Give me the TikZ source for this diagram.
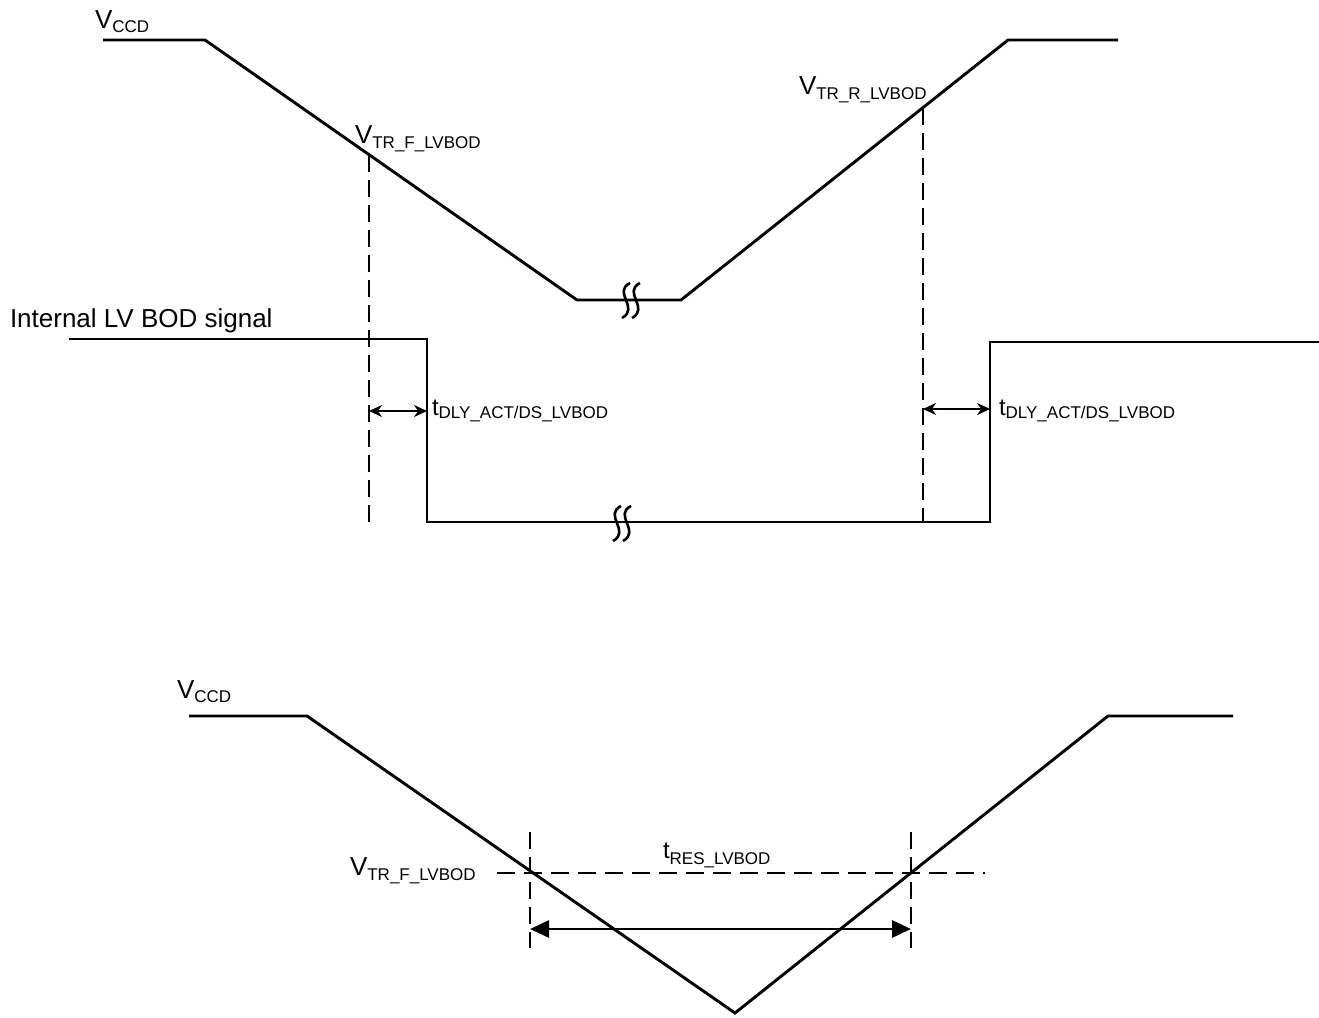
\documentclass[tikz,border=0pt]{standalone}
\usepackage{fontspec}
\setmainfont{Liberation Sans}
\usetikzlibrary{arrows.meta}
\newcommand\mainsz[1]{{\fontsize{26}{30}\selectfont #1}}
\newcommand\tsz[1]{{\fontsize{24}{28}\selectfont #1}}
\newcommand\subsz[2]{\raisebox{-#1pt}{\fontsize{17}{20}\selectfont #2}}
\tikzset{
  wave/.style={line width=2.9pt, line join=miter},
  vdash/.style={line width=2.9pt, dash pattern=on 17pt off 8pt},
  hdash/.style={line width=2.9pt, dash pattern=on 18pt off 9pt},
  brk/.style={line width=2.6pt},
  smallarr/.style={line width=2.6pt, {Stealth[length=13pt,width=12pt]}-{Stealth[length=13pt,width=12pt]}},
  bigarr/.style={line width=2.9pt, {Triangle[length=19pt,width=17pt]}-{Triangle[length=19pt,width=17pt]}},
  lbl/.style={anchor=base west, inner sep=0pt, outer sep=0pt},
}
\begin{document}
\begin{tikzpicture}[x=1pt,y=-1pt]
\useasboundingbox (0,0) rectangle (1319,1017);
% ---------- top VCCD ----------
\coordinate (a0) at (103,40);
\coordinate (a1) at (205,40);
\coordinate (a2) at (577,300);
\coordinate (a3) at (681,300);
\coordinate (a4) at (1008,40);
\coordinate (a5) at (1118,40);
\draw[wave] (a0) -- (a1) -- (a2) -- (a3) -- (a4) -- (a5);
% break mark top
\foreach \bx in {626,636}{
  \draw[brk] (\bx+4,283) .. controls (\bx-14,292) and (\bx+14,308) .. (\bx-4,318);
}
\node[lbl] (vccd1) at (95,28) {\mainsz{V}\subsz{4}{CCD}};
\node[lbl] (vtrf1) at (355,143) {\mainsz{V}\subsz{5}{TR\_F\_LVBOD}};
\node[lbl] (vtrr1) at (799,94) {\mainsz{V}\subsz{5}{TR\_R\_LVBOD}};
% ---------- internal signal ----------
\coordinate (s0) at (69,339);
\coordinate (s1) at (427,339);
\coordinate (s2) at (427,522);
\coordinate (s3) at (990,522);
\coordinate (s4) at (990,342);
\coordinate (s5) at (1319,342);
\draw[wave] (s0) -- (s1) -- (s2) -- (s3) -- (s4) -- (s5);
\foreach \bx in {617,627}{
  \draw[brk] (\bx+4,506) .. controls (\bx-14,515) and (\bx+14,531) .. (\bx-4,541);
}
\node[lbl] (intl) at (10,327) {\mainsz{Internal LV BOD signal}};
% dashed verticals
\coordinate (d1t) at (369,155);
\coordinate (d1b) at (369,527);
\coordinate (d2t) at (923,108);
\coordinate (d2b) at (923,522);
\draw[vdash] (d1t) -- (d1b);
\draw[vdash] (d2t) -- (d2b);
% delay arrows
\coordinate (ar1l) at (369,411);
\coordinate (ar1r) at (427,411);
\coordinate (ar2l) at (923,409);
\coordinate (ar2r) at (990,409);
\draw[smallarr] (ar1l) -- (ar1r);
\draw[smallarr] (ar2l) -- (ar2r);
\node[lbl] (tdly1) at (432,415) {\tsz{t}\subsz{3}{DLY\_ACT/DS\_LVBOD}};
\node[lbl] (tdly2) at (999,415) {\tsz{t}\subsz{3}{DLY\_ACT/DS\_LVBOD}};
% ---------- bottom VCCD ----------
\coordinate (b0) at (189,716);
\coordinate (b1) at (307,716);
\coordinate (b2) at (735,1013);
\coordinate (b3) at (1108,716);
\coordinate (b4) at (1233,716);
\draw[wave] (b0) -- (b1) -- (b2) -- (b3) -- (b4);
\node[lbl] (vccd2) at (177,698) {\mainsz{V}\subsz{4}{CCD}};
\node[lbl] (vtrf2) at (350,875) {\mainsz{V}\subsz{5}{TR\_F\_LVBOD}};
\node[lbl] (tres) at (663,858) {\tsz{t}\subsz{6}{RES\_LVBOD}};
\coordinate (hl) at (497,873);
\coordinate (hr) at (985,873);
\draw[hdash] (hl) -- (hr);
\coordinate (e1t) at (530,832);
\coordinate (e1b) at (530,948);
\coordinate (e2t) at (911,832);
\coordinate (e2b) at (911,948);
\draw[vdash] (e1t) -- (e1b);
\draw[vdash] (e2t) -- (e2b);
\coordinate (r1) at (530,929);
\coordinate (r2) at (911,929);
\draw[bigarr] (r1) -- (r2);
\end{tikzpicture}
\end{document}
